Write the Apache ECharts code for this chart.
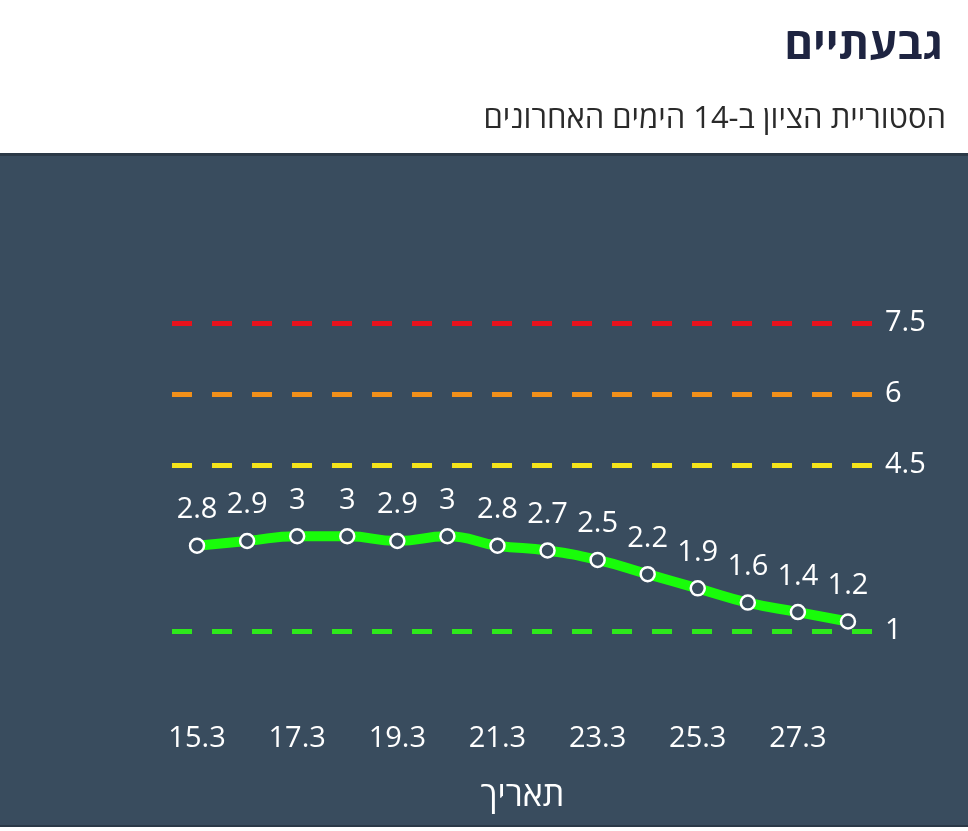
<!DOCTYPE html>
<html>
<head>
<meta charset="utf-8">
<script src="https://cdn.jsdelivr.net/npm/echarts@6/dist/echarts.min.js"></script>
<style>
html,body{margin:0;padding:0;background:#fff;}
#c{width:968px;height:831px;}
</style>
</head>
<body>
<div id="c"></div>
<script>
const titleText = 'גבעתיים';
const subtitleText = 'הסטוריית הציון ב-14 הימים האחרונים';
const axisName = 'תאריך';
const dates = ['15.3','16.3','17.3','18.3','19.3','20.3','21.3','22.3','23.3','24.3','25.3','26.3','27.3','28.3'];
const scores = [2.8, 2.9, 3, 3, 2.9, 3, 2.8, 2.7, 2.5, 2.2, 1.9, 1.6, 1.4, 1.2];
const thresholdValues = [7.5, 6, 4.5, 1];
const thresholdColors = ['#e8121c', '#f2901a', '#f6e41a', '#2ee81c'];

const chart = echarts.init(document.getElementById('c'), null, {renderer: 'canvas'});
const FONT = '"Open Sans", "Noto Sans", "DejaVu Sans", sans-serif';

chart.setOption({
  backgroundColor: 'transparent',
  animation: false,
  textStyle: {fontFamily: FONT},
  graphic: [
    {type: 'rect', silent: true, z: -10, shape: {x: 0, y: 154, width: 968, height: 673}, style: {fill: '#394c5e'}},
    {type: 'rect', silent: true, z: -9, shape: {x: 0, y: 153, width: 968, height: 3}, style: {fill: '#2b3947'}},
    {type: 'rect', silent: true, z: -9, shape: {x: 0, y: 825, width: 968, height: 2}, style: {fill: '#2b3947'}}
  ],
  title: [
    {text: titleText, right: 20, top: 19,
     textStyle: {fontFamily: FONT, fontSize: 44, fontWeight: 'bold', color: '#1e2441'}},
    {text: subtitleText, right: 17, top: 99,
     textStyle: {fontFamily: FONT, fontSize: 31, fontWeight: 'normal', color: '#2a2a2a'}}
  ],
  grid: {left: 172, right: 95, top: 299.3, bottom: 152.6, containLabel: false},
  xAxis: {
    type: 'category',
    data: dates,
    boundaryGap: true,
    axisLine: {show: false},
    axisTick: {show: false},
    axisLabel: {interval: 1, color: '#ffffff', fontSize: 29, margin: 46, fontFamily: FONT},
    name: axisName,
    nameLocation: 'middle',
    nameGap: 101,
    nameTextStyle: {color: '#ffffff', fontSize: 34, fontFamily: FONT}
  },
  yAxis: {
    type: 'value', min: 0, max: 8, show: false, splitLine: {show: false}
  },
  series: [{
    type: 'line',
    data: scores,
    smooth: true,
    z: 5,
    lineStyle: {color: '#19fc0a', width: 10},
    itemStyle: {color: '#394c5e', borderColor: '#ffffff', borderWidth: 2.5},
    symbol: 'circle',
    symbolSize: 14,
    label: {show: true, position: 'top', distance: 13, color: '#ffffff', fontSize: 29, fontFamily: FONT},
    markLine: {
      silent: true,
      symbol: 'none',
      z: 2,
      data: thresholdValues.map((v, i) => ({
        yAxis: v,
        lineStyle: {color: thresholdColors[i], width: 5, type: [20, 20]},
        label: {show: true, position: 'end', formatter: String(v), color: '#ffffff', fontSize: 29, distance: 12, fontFamily: FONT}
      }))
    }
  }]
});
</script>
</body>
</html>
